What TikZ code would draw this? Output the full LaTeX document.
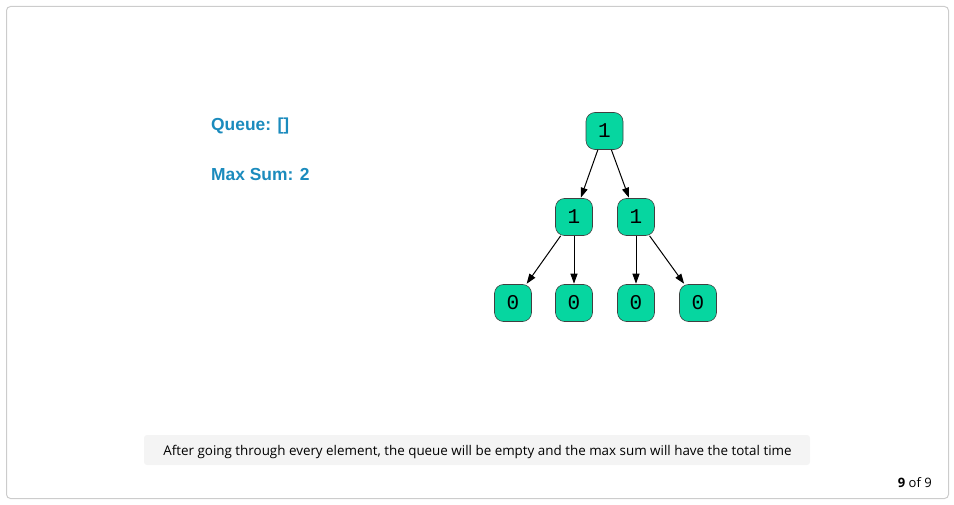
\documentclass[tikz,border=0pt]{standalone}
\usepackage{fontspec}
\setmainfont{Liberation Sans}
\newfontfamily\capfont{Open Sans}
\newfontfamily\monofont{Liberation Mono}
\usetikzlibrary{arrows.meta}
\definecolor{nodefill}{RGB}{6,214,160}
\definecolor{labelblue}{RGB}{27,139,189}
\definecolor{framegray}{RGB}{204,204,204}
\definecolor{capbg}{RGB}{244,244,244}
\tikzset{
  treenode/.style={draw=black!75, line width=0.6pt, fill=nodefill, rounded corners=9pt,
    minimum width=37pt, minimum height=37pt, inner sep=0pt,
    font=\monofont\fontsize{21}{21}\selectfont},
  edge/.style={draw=black, line width=1pt, -{Triangle[length=10pt,width=7pt]}, shorten >=0.5pt},
  info/.style={text=labelblue, font=\bfseries\fontsize{17.4}{20}\selectfont, anchor=base west, inner sep=0pt},
}
\begin{document}
\begin{tikzpicture}[x=1pt,y=-1pt]
\useasboundingbox (0,0) rectangle (954,505);
\draw[framegray, line width=1pt, rounded corners=4pt] (6.5,6.5) rectangle (948.5,498.5);
\node[info] (queue) at (211,131) {Queue: []};
\node[info] (maxsum) at (211,181) {Max Sum: 2};

\node[treenode] (r) at (604.5,131) {1};
\node[treenode] (a) at (574,217) {1};
\node[treenode] (b) at (636,217) {1};
\node[treenode] (a1) at (513,303) {0};
\node[treenode] (a2) at (574,303) {0};
\node[treenode] (b1) at (636,303) {0};
\node[treenode] (b2) at (698,303) {0};

\draw[edge] (r) -- (a);
\draw[edge] (r) -- (b);
\draw[edge] (a) -- (a1);
\draw[edge] (a) -- (a2);
\draw[edge] (b) -- (b1);
\draw[edge] (b) -- (b2);

\fill[capbg, rounded corners=3pt] (144,435) rectangle (810,465);
\node[anchor=base, inner sep=0pt, font=\capfont\fontsize{13.4}{15}\selectfont] (cap) at (477.5,455)
  {After going through every element, the queue will be empty and the max sum will have the total time};
\node[anchor=base east, inner sep=0pt, font=\capfont\fontsize{13}{15}\selectfont] (page) at (932,487)
  {\textbf{9} of 9};
\end{tikzpicture}
\end{document}
